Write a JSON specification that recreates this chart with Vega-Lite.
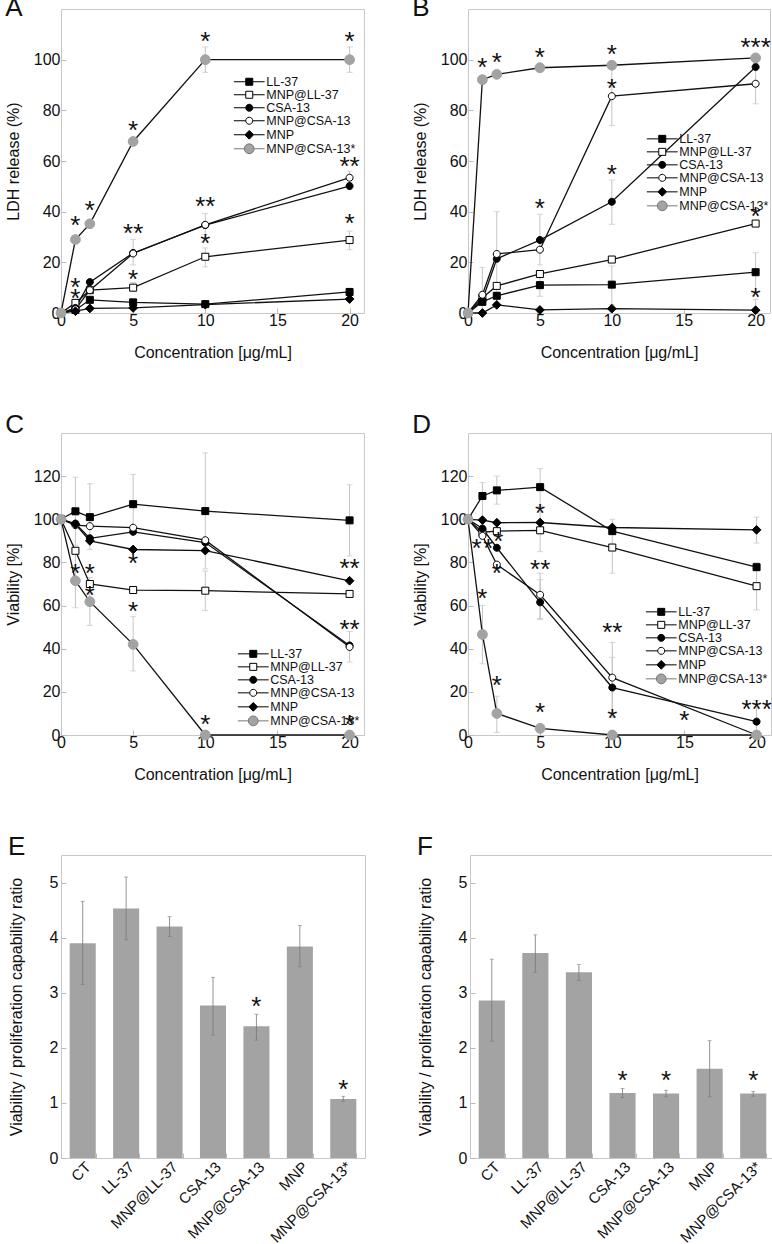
{
"$schema":"https://vega.github.io/schema/vega-lite/v6.json",
"padding":{"left":4,"top":-6,"right":0,"bottom":0},
"config":{
 "font":"Liberation Sans",
 "view":{"stroke":"#c8c8c8","strokeWidth":1},
 "axis":{"domain":false,"grid":false,"ticks":true,"tickSize":-5,"tickColor":"#bbbbbb","labelFontSize":16,"titleFontSize":16,"titleFontWeight":"normal","labelColor":"#111","titleColor":"#111","labelFlush":false,"labelOverlap":false},
 "axisX":{"labelPadding":4,"titlePadding":16},
 "axisY":{"labelPadding":6,"titlePadding":12},
 "legend":{"padding":0,"rowPadding":0,"labelFontSize":12.5,"labelColor":"#111","symbolSize":49,"symbolStrokeWidth":1,"labelOffset":10.75,"symbolOpacity":1,"labelLimit":300},
 "title":{"fontSize":26,"fontWeight":"normal","anchor":"start","frame":"bounds","baseline":"alphabetic","color":"#111"}
},
"datasets":{
"c":[
{"p":"A","s":"LL-37","x":0,"y":0},{"p":"A","s":"LL-37","x":1,"y":1.2},{"p":"A","s":"LL-37","x":2,"y":5.2},{"p":"A","s":"LL-37","x":5,"y":4.2},{"p":"A","s":"LL-37","x":10,"y":3.5},{"p":"A","s":"LL-37","x":20,"y":8.3,"lo":6.8,"hi":9.8},
{"p":"A","s":"MNP@LL-37","x":0,"y":0},{"p":"A","s":"MNP@LL-37","x":1,"y":4},{"p":"A","s":"MNP@LL-37","x":2,"y":9},{"p":"A","s":"MNP@LL-37","x":5,"y":10,"lo":8.5,"hi":12},{"p":"A","s":"MNP@LL-37","x":10,"y":22.2,"lo":18.2,"hi":25.7},{"p":"A","s":"MNP@LL-37","x":20,"y":28.8,"lo":25,"hi":32.3},
{"p":"A","s":"CSA-13","x":0,"y":0},{"p":"A","s":"CSA-13","x":1,"y":2},{"p":"A","s":"CSA-13","x":2,"y":12.2},{"p":"A","s":"CSA-13","x":5,"y":23.7},{"p":"A","s":"CSA-13","x":10,"y":34.7},{"p":"A","s":"CSA-13","x":20,"y":50.1,"lo":48.8,"hi":51.5},
{"p":"A","s":"MNP@CSA-13","x":0,"y":0},{"p":"A","s":"MNP@CSA-13","x":1,"y":1.5},{"p":"A","s":"MNP@CSA-13","x":2,"y":9},{"p":"A","s":"MNP@CSA-13","x":5,"y":23.5,"lo":19,"hi":29},{"p":"A","s":"MNP@CSA-13","x":10,"y":34.8,"lo":31,"hi":39.3},{"p":"A","s":"MNP@CSA-13","x":20,"y":53.4,"lo":51,"hi":56},
{"p":"A","s":"MNP","x":0,"y":0},{"p":"A","s":"MNP","x":1,"y":0.7},{"p":"A","s":"MNP","x":2,"y":1.8},{"p":"A","s":"MNP","x":5,"y":2},{"p":"A","s":"MNP","x":10,"y":3.3},{"p":"A","s":"MNP","x":20,"y":5.5},
{"p":"A","s":"MNP@CSA-13*","x":0,"y":0},{"p":"A","s":"MNP@CSA-13*","x":1,"y":29},{"p":"A","s":"MNP@CSA-13*","x":2,"y":35.2},{"p":"A","s":"MNP@CSA-13*","x":5,"y":67.7},{"p":"A","s":"MNP@CSA-13*","x":10,"y":100,"lo":95,"hi":105},{"p":"A","s":"MNP@CSA-13*","x":20,"y":100,"lo":95,"hi":105},
{"p":"A","x":10,"y":108,"t":"*"},{"p":"A","x":20,"y":108,"t":"*"},{"p":"A","x":5,"y":73.2,"t":"*"},{"p":"A","x":2,"y":41.5,"t":"*"},{"p":"A","x":1,"y":35.6,"t":"*"},{"p":"A","x":20,"y":58.7,"t":"**"},{"p":"A","x":10,"y":42.9,"t":"**"},{"p":"A","x":5,"y":32.3,"t":"**"},{"p":"A","x":20,"y":36.3,"t":"*"},{"p":"A","x":10,"y":28.4,"t":"*"},{"p":"A","x":5,"y":14.1,"t":"*"},{"p":"A","x":1,"y":11.2,"t":"*"},{"p":"A","x":1,"y":6.6,"t":"*"},

{"p":"B","s":"LL-37","x":0,"y":0},{"p":"B","s":"LL-37","x":1,"y":4.4},{"p":"B","s":"LL-37","x":2,"y":6.8},{"p":"B","s":"LL-37","x":5,"y":11,"lo":6.6,"hi":14.5},{"p":"B","s":"LL-37","x":10,"y":11.2,"lo":3.3,"hi":18.5},{"p":"B","s":"LL-37","x":20,"y":16.1,"lo":7.9,"hi":23.8},
{"p":"B","s":"MNP@LL-37","x":0,"y":0},{"p":"B","s":"MNP@LL-37","x":1,"y":6},{"p":"B","s":"MNP@LL-37","x":2,"y":10.7},{"p":"B","s":"MNP@LL-37","x":5,"y":15.4},{"p":"B","s":"MNP@LL-37","x":10,"y":21.1},{"p":"B","s":"MNP@LL-37","x":20,"y":35.3},
{"p":"B","s":"CSA-13","x":0,"y":0},{"p":"B","s":"CSA-13","x":1,"y":5,"lo":0,"hi":18},{"p":"B","s":"CSA-13","x":2,"y":21.4,"lo":3,"hi":40},{"p":"B","s":"CSA-13","x":5,"y":28.8,"lo":19,"hi":39},{"p":"B","s":"CSA-13","x":10,"y":43.9,"lo":35,"hi":52.5},{"p":"B","s":"CSA-13","x":20,"y":97.1},
{"p":"B","s":"MNP@CSA-13","x":0,"y":0},{"p":"B","s":"MNP@CSA-13","x":1,"y":7.2},{"p":"B","s":"MNP@CSA-13","x":2,"y":23.3},{"p":"B","s":"MNP@CSA-13","x":5,"y":25},{"p":"B","s":"MNP@CSA-13","x":10,"y":85.6,"lo":74,"hi":97},{"p":"B","s":"MNP@CSA-13","x":20,"y":90.5,"lo":82.6,"hi":98.4},
{"p":"B","s":"MNP","x":0,"y":0},{"p":"B","s":"MNP","x":1,"y":0},{"p":"B","s":"MNP","x":2,"y":3.2},{"p":"B","s":"MNP","x":5,"y":1.2},{"p":"B","s":"MNP","x":10,"y":1.7},{"p":"B","s":"MNP","x":20,"y":1.1,"lo":0,"hi":5.3},
{"p":"B","s":"MNP@CSA-13*","x":0,"y":0},{"p":"B","s":"MNP@CSA-13*","x":1,"y":92.1},{"p":"B","s":"MNP@CSA-13*","x":2,"y":94.2},{"p":"B","s":"MNP@CSA-13*","x":5,"y":96.8},{"p":"B","s":"MNP@CSA-13*","x":10,"y":97.8},{"p":"B","s":"MNP@CSA-13*","x":20,"y":100.7},
{"p":"B","x":1,"y":97.8,"t":"*"},{"p":"B","x":2,"y":99.7,"t":"*"},{"p":"B","x":5,"y":101.7,"t":"*"},{"p":"B","x":10,"y":103,"t":"*"},{"p":"B","x":20,"y":105.7,"t":"***"},{"p":"B","x":10,"y":89.8,"t":"*"},{"p":"B","x":10,"y":55.5,"t":"*"},{"p":"B","x":5,"y":42.3,"t":"*"},{"p":"B","x":20,"y":39,"t":"*"},{"p":"B","x":20,"y":7.3,"t":"*"},

{"p":"C","s":"LL-37","x":0,"y":100},{"p":"C","s":"LL-37","x":1,"y":103.7,"lo":88,"hi":119.5},{"p":"C","s":"LL-37","x":2,"y":101,"lo":86,"hi":116.5},{"p":"C","s":"LL-37","x":5,"y":107,"lo":93,"hi":120.8},{"p":"C","s":"LL-37","x":10,"y":103.8,"lo":77,"hi":130.8},{"p":"C","s":"LL-37","x":20,"y":99.5,"lo":83,"hi":116},
{"p":"C","s":"MNP@LL-37","x":0,"y":100},{"p":"C","s":"MNP@LL-37","x":1,"y":85.4},{"p":"C","s":"MNP@LL-37","x":2,"y":70},{"p":"C","s":"MNP@LL-37","x":5,"y":67.2},{"p":"C","s":"MNP@LL-37","x":10,"y":66.9,"lo":57.7,"hi":76},{"p":"C","s":"MNP@LL-37","x":20,"y":65.4},
{"p":"C","s":"CSA-13","x":0,"y":100},{"p":"C","s":"CSA-13","x":1,"y":98},{"p":"C","s":"CSA-13","x":2,"y":91.2},{"p":"C","s":"CSA-13","x":5,"y":94.2},{"p":"C","s":"CSA-13","x":10,"y":89.2},{"p":"C","s":"CSA-13","x":20,"y":41.5},
{"p":"C","s":"MNP@CSA-13","x":0,"y":100},{"p":"C","s":"MNP@CSA-13","x":1,"y":97.3},{"p":"C","s":"MNP@CSA-13","x":2,"y":96.8},{"p":"C","s":"MNP@CSA-13","x":5,"y":96.1},{"p":"C","s":"MNP@CSA-13","x":10,"y":90.3},{"p":"C","s":"MNP@CSA-13","x":20,"y":40.8,"lo":33.8,"hi":48},
{"p":"C","s":"MNP","x":0,"y":100},{"p":"C","s":"MNP","x":1,"y":97.7},{"p":"C","s":"MNP","x":2,"y":90},{"p":"C","s":"MNP","x":5,"y":86},{"p":"C","s":"MNP","x":10,"y":85.5},{"p":"C","s":"MNP","x":20,"y":71.5},
{"p":"C","s":"MNP@CSA-13*","x":0,"y":100},{"p":"C","s":"MNP@CSA-13*","x":1,"y":71.5,"lo":59,"hi":84},{"p":"C","s":"MNP@CSA-13*","x":2,"y":61.8,"lo":50.8,"hi":73},{"p":"C","s":"MNP@CSA-13*","x":5,"y":42,"lo":29.7,"hi":55},{"p":"C","s":"MNP@CSA-13*","x":10,"y":0},{"p":"C","s":"MNP@CSA-13*","x":20,"y":0},
{"p":"C","x":1,"y":76.2,"t":"*"},{"p":"C","x":2,"y":76.2,"t":"*"},{"p":"C","x":2,"y":65.7,"t":"*"},{"p":"C","x":5,"y":80.8,"t":"*"},{"p":"C","x":5,"y":58.5,"t":"*"},{"p":"C","x":20,"y":78.5,"t":"**"},{"p":"C","x":20,"y":50,"t":"**"},{"p":"C","x":10,"y":6.2,"t":"*"},{"p":"C","x":20,"y":6.2,"t":"*"},

{"p":"D","s":"LL-37","x":0,"y":100},{"p":"D","s":"LL-37","x":1,"y":110.8,"lo":101,"hi":117},{"p":"D","s":"LL-37","x":2,"y":113.4,"lo":107,"hi":120},{"p":"D","s":"LL-37","x":5,"y":114.9,"lo":106,"hi":123.5},{"p":"D","s":"LL-37","x":10,"y":94.5},{"p":"D","s":"LL-37","x":20,"y":77.8},
{"p":"D","s":"MNP@LL-37","x":0,"y":100},{"p":"D","s":"MNP@LL-37","x":1,"y":94},{"p":"D","s":"MNP@LL-37","x":2,"y":94.5},{"p":"D","s":"MNP@LL-37","x":5,"y":94.9,"lo":85,"hi":105},{"p":"D","s":"MNP@LL-37","x":10,"y":86.9,"lo":75,"hi":100},{"p":"D","s":"MNP@LL-37","x":20,"y":69,"lo":58,"hi":80},
{"p":"D","s":"CSA-13","x":0,"y":100},{"p":"D","s":"CSA-13","x":1,"y":95.7},{"p":"D","s":"CSA-13","x":2,"y":86.8},{"p":"D","s":"CSA-13","x":5,"y":61.5,"lo":53.5,"hi":72},{"p":"D","s":"CSA-13","x":10,"y":22,"lo":8,"hi":36},{"p":"D","s":"CSA-13","x":20,"y":6.2},
{"p":"D","s":"MNP@CSA-13","x":0,"y":100},{"p":"D","s":"MNP@CSA-13","x":1,"y":92.3},{"p":"D","s":"MNP@CSA-13","x":2,"y":79},{"p":"D","s":"MNP@CSA-13","x":5,"y":65,"lo":54,"hi":75},{"p":"D","s":"MNP@CSA-13","x":10,"y":26.6,"lo":10,"hi":42.9},{"p":"D","s":"MNP@CSA-13","x":20,"y":0,"lo":0,"hi":16},
{"p":"D","s":"MNP","x":0,"y":100},{"p":"D","s":"MNP","x":1,"y":99.6},{"p":"D","s":"MNP","x":2,"y":98.4},{"p":"D","s":"MNP","x":5,"y":98.5},{"p":"D","s":"MNP","x":10,"y":96.2},{"p":"D","s":"MNP","x":20,"y":95.1,"lo":89,"hi":101},
{"p":"D","s":"MNP@CSA-13*","x":0,"y":100},{"p":"D","s":"MNP@CSA-13*","x":1,"y":46.6,"lo":33,"hi":60},{"p":"D","s":"MNP@CSA-13*","x":2,"y":10,"lo":1.2,"hi":18},{"p":"D","s":"MNP@CSA-13*","x":5,"y":3.1,"lo":1,"hi":5},{"p":"D","s":"MNP@CSA-13*","x":10,"y":0},{"p":"D","s":"MNP@CSA-13*","x":20,"y":0},
{"p":"D","x":5,"y":103.8,"t":"*"},{"p":"D","x":0.6,"y":87.8,"t":"*"},{"p":"D","x":1.4,"y":87.8,"t":"*"},{"p":"D","x":2.1,"y":91,"t":"*"},{"p":"D","x":2,"y":75.8,"t":"*"},{"p":"D","x":1,"y":64.6,"t":"*"},{"p":"D","x":5,"y":77.8,"t":"**"},{"p":"D","x":10,"y":48.8,"t":"**"},{"p":"D","x":2,"y":24,"t":"*"},{"p":"D","x":5,"y":11.7,"t":"*"},{"p":"D","x":10,"y":8.6,"t":"*"},{"p":"D","x":15,"y":7.8,"t":"*"},{"p":"D","x":20,"y":13.2,"t":"***"}
],
"b":[
{"p":"E","g":"CT","v":3.9,"lo":3.15,"hi":4.66},{"p":"E","g":"LL-37","v":4.53,"lo":3.96,"hi":5.1},{"p":"E","g":"MNP@LL-37","v":4.2,"lo":4.02,"hi":4.38},{"p":"E","g":"CSA-13","v":2.77,"lo":2.23,"hi":3.28},{"p":"E","g":"MNP@CSA-13","v":2.39,"lo":2.14,"hi":2.61},{"p":"E","g":"MNP","v":3.84,"lo":3.47,"hi":4.22},{"p":"E","g":"MNP@CSA-13*","v":1.07,"lo":1.03,"hi":1.12},
{"p":"E","g":"MNP@CSA-13","sy":2.8,"t":"*"},{"p":"E","g":"MNP@CSA-13*","sy":1.29,"t":"*"},
{"p":"F","g":"CT","v":2.86,"lo":2.12,"hi":3.61},{"p":"F","g":"LL-37","v":3.72,"lo":3.37,"hi":4.05},{"p":"F","g":"MNP@LL-37","v":3.37,"lo":3.22,"hi":3.51},{"p":"F","g":"CSA-13","v":1.18,"lo":1.1,"hi":1.26},{"p":"F","g":"MNP@CSA-13","v":1.17,"lo":1.11,"hi":1.23},{"p":"F","g":"MNP","v":1.62,"lo":1.11,"hi":2.13},{"p":"F","g":"MNP@CSA-13*","v":1.17,"lo":1.12,"hi":1.21},
{"p":"F","g":"CSA-13","sy":1.45,"t":"*"},{"p":"F","g":"MNP@CSA-13","sy":1.45,"t":"*"},{"p":"F","g":"MNP@CSA-13*","sy":1.45,"t":"*"}
]
},
"vconcat":[
{"hconcat":[
 {"width":303,"height":304,"title":{"text":"A","offset":-12},
  "data":{"name":"c"},"transform":[{"filter":"datum.p==='A'"}],
  "encoding":{"x":{"field":"x","type":"quantitative","scale":{"domain":[0,21],"nice":false},"axis":{"values":[0,5,10,15,20],"title":"Concentration [μg/mL]"}}},
  "layer":[
   {"transform":[{"filter":"isValid(datum.lo)"}],"mark":{"type":"rule","color":"#c4c4c4","strokeWidth":1},"encoding":{"y":{"field":"lo","type":"quantitative","title":"LDH release (%)","scale":{"domain":[0,120],"nice":false}},"y2":{"field":"hi"}}},
   {"transform":[{"filter":"isValid(datum.lo)"}],"mark":{"type":"tick","orient":"horizontal","size":6,"thickness":1,"color":"#c4c4c4"},"encoding":{"y":{"field":"lo","type":"quantitative","title":"LDH release (%)","scale":{"domain":[0,120],"nice":false}}}},
   {"transform":[{"filter":"isValid(datum.hi)"}],"mark":{"type":"tick","orient":"horizontal","size":6,"thickness":1,"color":"#c4c4c4"},"encoding":{"y":{"field":"hi","type":"quantitative","title":"LDH release (%)","scale":{"domain":[0,120],"nice":false}}}},
   {"transform":[{"filter":"isValid(datum.s)"}],"mark":{"type":"line","color":"#111","strokeWidth":1.3},"encoding":{"y":{"field":"y","type":"quantitative","title":"LDH release (%)","scale":{"domain":[0,120],"nice":false},"axis":{"values":[0,20,40,60,80,100]}},"detail":{"field":"s"}}},
   {"transform":[{"filter":"isValid(datum.s)"}],"mark":{"type":"point","filled":true,"size":49,"strokeWidth":1,"opacity":1},"encoding":{"y":{"field":"y","type":"quantitative","title":"LDH release (%)"},
     "shape":{"field":"s","legend":null,"scale":{"domain":["LL-37","MNP@LL-37","CSA-13","MNP@CSA-13","MNP","MNP@CSA-13*"],"range":["M-1,-1H1V1H-1Z","M-1,-1H1V1H-1Z","M1,0A1,1,0,1,1,-1,0A1,1,0,1,1,1,0Z","M1,0A1,1,0,1,1,-1,0A1,1,0,1,1,1,0Z","M0,-1.25L1.25,0L0,1.25L-1.25,0Z","M1.4,0A1.4,1.4,0,1,1,-1.4,0A1.4,1.4,0,1,1,1.4,0Z"]}},
     "fill":{"field":"s","legend":null,"scale":{"domain":["LL-37","MNP@LL-37","CSA-13","MNP@CSA-13","MNP","MNP@CSA-13*"],"range":["#000","#fff","#000","#fff","#000","#a3a3a3"]}},
     "stroke":{"field":"s","legend":null,"scale":{"domain":["LL-37","MNP@LL-37","CSA-13","MNP@CSA-13","MNP","MNP@CSA-13*"],"range":["#000","#000","#000","#000","#000","#a3a3a3"]}}}},
   {"transform":[{"filter":"isValid(datum.t)"}],"mark":{"type":"text","fontSize":26,"dy":3,"color":"#111"},"encoding":{"y":{"field":"y","type":"quantitative","title":"LDH release (%)"},"text":{"field":"t"}}},
   {"transform":[{"filter":"isValid(datum.s)"}],"mark":{"type":"point","filled":true,"size":49,"strokeWidth":1,"opacity":0},"encoding":{"y":{"field":"y","type":"quantitative","title":"LDH release (%)"},
     "shape":{"field":"s","legend":{"title":null,"orient":"none","legendX":182,"legendY":66.5},"scale":{"domain":["LL-37","MNP@LL-37","CSA-13","MNP@CSA-13","MNP","MNP@CSA-13*"],"range":["M-4.4,0H-1M1,0H4.4M-1,-1H1V1H-1Z","M-4.4,0H-1M1,0H4.4M-1,-1H1V1H-1Z","M-4.4,0H-1M1,0H4.4M1,0A1,1,0,1,1,-1,0A1,1,0,1,1,1,0Z","M-4.4,0H-1M1,0H4.4M1,0A1,1,0,1,1,-1,0A1,1,0,1,1,1,0Z","M-4.4,0H-1.25M1.25,0H4.4M0,-1.25L1.25,0L0,1.25L-1.25,0Z","M-4.4,0H-1.4M1.4,0H4.4M1.4,0A1.4,1.4,0,1,1,-1.4,0A1.4,1.4,0,1,1,1.4,0Z"]}},
     "fill":{"field":"s","legend":{"title":null,"orient":"none","legendX":182,"legendY":66.5},"scale":{"domain":["LL-37","MNP@LL-37","CSA-13","MNP@CSA-13","MNP","MNP@CSA-13*"],"range":["#000","#fff","#000","#fff","#000","#a3a3a3"]}},
     "stroke":{"field":"s","legend":{"title":null,"orient":"none","legendX":182,"legendY":66.5},"scale":{"domain":["LL-37","MNP@LL-37","CSA-13","MNP@CSA-13","MNP","MNP@CSA-13*"],"range":["#000","#000","#000","#000","#000","#777"]}}}}
  ],
  "resolve":{"scale":{"shape":"independent","fill":"independent","stroke":"independent"}}
 },
 {"width":302,"height":304,"title":{"text":"B","offset":-12},
  "data":{"name":"c"},"transform":[{"filter":"datum.p==='B'"}],
  "encoding":{"x":{"field":"x","type":"quantitative","scale":{"domain":[0,21],"nice":false},"axis":{"values":[0,5,10,15,20],"title":"Concentration [μg/mL]"}}},
  "layer":[
   {"transform":[{"filter":"isValid(datum.lo)"}],"mark":{"type":"rule","color":"#c4c4c4","strokeWidth":1},"encoding":{"y":{"field":"lo","type":"quantitative","title":"LDH release (%)","scale":{"domain":[0,120],"nice":false}},"y2":{"field":"hi"}}},
   {"transform":[{"filter":"isValid(datum.lo)"}],"mark":{"type":"tick","orient":"horizontal","size":6,"thickness":1,"color":"#c4c4c4"},"encoding":{"y":{"field":"lo","type":"quantitative","title":"LDH release (%)","scale":{"domain":[0,120],"nice":false}}}},
   {"transform":[{"filter":"isValid(datum.hi)"}],"mark":{"type":"tick","orient":"horizontal","size":6,"thickness":1,"color":"#c4c4c4"},"encoding":{"y":{"field":"hi","type":"quantitative","title":"LDH release (%)","scale":{"domain":[0,120],"nice":false}}}},
   {"transform":[{"filter":"isValid(datum.s)"}],"mark":{"type":"line","color":"#111","strokeWidth":1.3},"encoding":{"y":{"field":"y","type":"quantitative","title":"LDH release (%)","scale":{"domain":[0,120],"nice":false},"axis":{"values":[0,20,40,60,80,100]}},"detail":{"field":"s"}}},
   {"transform":[{"filter":"isValid(datum.s)"}],"mark":{"type":"point","filled":true,"size":49,"strokeWidth":1,"opacity":1},"encoding":{"y":{"field":"y","type":"quantitative","title":"LDH release (%)"},
     "shape":{"field":"s","legend":null,"scale":{"domain":["LL-37","MNP@LL-37","CSA-13","MNP@CSA-13","MNP","MNP@CSA-13*"],"range":["M-1,-1H1V1H-1Z","M-1,-1H1V1H-1Z","M1,0A1,1,0,1,1,-1,0A1,1,0,1,1,1,0Z","M1,0A1,1,0,1,1,-1,0A1,1,0,1,1,1,0Z","M0,-1.25L1.25,0L0,1.25L-1.25,0Z","M1.4,0A1.4,1.4,0,1,1,-1.4,0A1.4,1.4,0,1,1,1.4,0Z"]}},
     "fill":{"field":"s","legend":null,"scale":{"domain":["LL-37","MNP@LL-37","CSA-13","MNP@CSA-13","MNP","MNP@CSA-13*"],"range":["#000","#fff","#000","#fff","#000","#a3a3a3"]}},
     "stroke":{"field":"s","legend":null,"scale":{"domain":["LL-37","MNP@LL-37","CSA-13","MNP@CSA-13","MNP","MNP@CSA-13*"],"range":["#000","#000","#000","#000","#000","#a3a3a3"]}}}},
   {"transform":[{"filter":"isValid(datum.t)"}],"mark":{"type":"text","fontSize":26,"dy":3,"color":"#111"},"encoding":{"y":{"field":"y","type":"quantitative","title":"LDH release (%)"},"text":{"field":"t"}}},
   {"transform":[{"filter":"isValid(datum.s)"}],"mark":{"type":"point","filled":true,"size":49,"strokeWidth":1,"opacity":0},"encoding":{"y":{"field":"y","type":"quantitative","title":"LDH release (%)"},
     "shape":{"field":"s","legend":{"title":null,"orient":"none","legendX":188,"legendY":123.6},"scale":{"domain":["LL-37","MNP@LL-37","CSA-13","MNP@CSA-13","MNP","MNP@CSA-13*"],"range":["M-4.4,0H-1M1,0H4.4M-1,-1H1V1H-1Z","M-4.4,0H-1M1,0H4.4M-1,-1H1V1H-1Z","M-4.4,0H-1M1,0H4.4M1,0A1,1,0,1,1,-1,0A1,1,0,1,1,1,0Z","M-4.4,0H-1M1,0H4.4M1,0A1,1,0,1,1,-1,0A1,1,0,1,1,1,0Z","M-4.4,0H-1.25M1.25,0H4.4M0,-1.25L1.25,0L0,1.25L-1.25,0Z","M-4.4,0H-1.4M1.4,0H4.4M1.4,0A1.4,1.4,0,1,1,-1.4,0A1.4,1.4,0,1,1,1.4,0Z"]}},
     "fill":{"field":"s","legend":{"title":null,"orient":"none","legendX":188,"legendY":123.6},"scale":{"domain":["LL-37","MNP@LL-37","CSA-13","MNP@CSA-13","MNP","MNP@CSA-13*"],"range":["#000","#fff","#000","#fff","#000","#a3a3a3"]}},
     "stroke":{"field":"s","legend":{"title":null,"orient":"none","legendX":188,"legendY":123.6},"scale":{"domain":["LL-37","MNP@LL-37","CSA-13","MNP@CSA-13","MNP","MNP@CSA-13*"],"range":["#000","#000","#000","#000","#000","#777"]}}}}
  ],
  "resolve":{"scale":{"shape":"independent","fill":"independent","stroke":"independent"}}
 }
],"spacing":45},
{"hconcat":[
 {"width":303,"height":302,"title":{"text":"C","offset":-5},
  "data":{"name":"c"},"transform":[{"filter":"datum.p==='C'"}],
  "encoding":{"x":{"field":"x","type":"quantitative","scale":{"domain":[0,21],"nice":false},"axis":{"values":[0,5,10,15,20],"title":"Concentration [μg/mL]"}}},
  "layer":[
   {"transform":[{"filter":"isValid(datum.lo)"}],"mark":{"type":"rule","color":"#c4c4c4","strokeWidth":1},"encoding":{"y":{"field":"lo","type":"quantitative","title":"Viability [%]","scale":{"domain":[0,140],"nice":false}},"y2":{"field":"hi"}}},
   {"transform":[{"filter":"isValid(datum.lo)"}],"mark":{"type":"tick","orient":"horizontal","size":6,"thickness":1,"color":"#c4c4c4"},"encoding":{"y":{"field":"lo","type":"quantitative","title":"Viability [%]","scale":{"domain":[0,140],"nice":false}}}},
   {"transform":[{"filter":"isValid(datum.hi)"}],"mark":{"type":"tick","orient":"horizontal","size":6,"thickness":1,"color":"#c4c4c4"},"encoding":{"y":{"field":"hi","type":"quantitative","title":"Viability [%]","scale":{"domain":[0,140],"nice":false}}}},
   {"transform":[{"filter":"isValid(datum.s)"}],"mark":{"type":"line","color":"#111","strokeWidth":1.3},"encoding":{"y":{"field":"y","type":"quantitative","title":"Viability [%]","scale":{"domain":[0,140],"nice":false},"axis":{"values":[0,20,40,60,80,100,120]}},"detail":{"field":"s"}}},
   {"transform":[{"filter":"isValid(datum.s)"}],"mark":{"type":"point","filled":true,"size":49,"strokeWidth":1,"opacity":1},"encoding":{"y":{"field":"y","type":"quantitative","title":"Viability [%]"},
     "shape":{"field":"s","legend":null,"scale":{"domain":["LL-37","MNP@LL-37","CSA-13","MNP@CSA-13","MNP","MNP@CSA-13*"],"range":["M-1,-1H1V1H-1Z","M-1,-1H1V1H-1Z","M1,0A1,1,0,1,1,-1,0A1,1,0,1,1,1,0Z","M1,0A1,1,0,1,1,-1,0A1,1,0,1,1,1,0Z","M0,-1.25L1.25,0L0,1.25L-1.25,0Z","M1.4,0A1.4,1.4,0,1,1,-1.4,0A1.4,1.4,0,1,1,1.4,0Z"]}},
     "fill":{"field":"s","legend":null,"scale":{"domain":["LL-37","MNP@LL-37","CSA-13","MNP@CSA-13","MNP","MNP@CSA-13*"],"range":["#000","#fff","#000","#fff","#000","#a3a3a3"]}},
     "stroke":{"field":"s","legend":null,"scale":{"domain":["LL-37","MNP@LL-37","CSA-13","MNP@CSA-13","MNP","MNP@CSA-13*"],"range":["#000","#000","#000","#000","#000","#a3a3a3"]}}}},
   {"transform":[{"filter":"isValid(datum.t)"}],"mark":{"type":"text","fontSize":26,"dy":3,"color":"#111"},"encoding":{"y":{"field":"y","type":"quantitative","title":"Viability [%]"},"text":{"field":"t"}}},
   {"transform":[{"filter":"isValid(datum.s)"}],"mark":{"type":"point","filled":true,"size":49,"strokeWidth":1,"opacity":0},"encoding":{"y":{"field":"y","type":"quantitative","title":"Viability [%]"},
     "shape":{"field":"s","legend":{"title":null,"orient":"none","legendX":186,"legendY":214.6},"scale":{"domain":["LL-37","MNP@LL-37","CSA-13","MNP@CSA-13","MNP","MNP@CSA-13*"],"range":["M-4.4,0H-1M1,0H4.4M-1,-1H1V1H-1Z","M-4.4,0H-1M1,0H4.4M-1,-1H1V1H-1Z","M-4.4,0H-1M1,0H4.4M1,0A1,1,0,1,1,-1,0A1,1,0,1,1,1,0Z","M-4.4,0H-1M1,0H4.4M1,0A1,1,0,1,1,-1,0A1,1,0,1,1,1,0Z","M-4.4,0H-1.25M1.25,0H4.4M0,-1.25L1.25,0L0,1.25L-1.25,0Z","M-4.4,0H-1.4M1.4,0H4.4M1.4,0A1.4,1.4,0,1,1,-1.4,0A1.4,1.4,0,1,1,1.4,0Z"]}},
     "fill":{"field":"s","legend":{"title":null,"orient":"none","legendX":186,"legendY":214.6},"scale":{"domain":["LL-37","MNP@LL-37","CSA-13","MNP@CSA-13","MNP","MNP@CSA-13*"],"range":["#000","#fff","#000","#fff","#000","#a3a3a3"]}},
     "stroke":{"field":"s","legend":{"title":null,"orient":"none","legendX":186,"legendY":214.6},"scale":{"domain":["LL-37","MNP@LL-37","CSA-13","MNP@CSA-13","MNP","MNP@CSA-13*"],"range":["#000","#000","#000","#000","#000","#777"]}}}}
  ],
  "resolve":{"scale":{"shape":"independent","fill":"independent","stroke":"independent"}}
 },
 {"width":303,"height":302,"title":{"text":"D","offset":-5},
  "data":{"name":"c"},"transform":[{"filter":"datum.p==='D'"}],
  "encoding":{"x":{"field":"x","type":"quantitative","scale":{"domain":[0,21],"nice":false},"axis":{"values":[0,5,10,15,20],"title":"Concentration [μg/mL]"}}},
  "layer":[
   {"transform":[{"filter":"isValid(datum.lo)"}],"mark":{"type":"rule","color":"#c4c4c4","strokeWidth":1},"encoding":{"y":{"field":"lo","type":"quantitative","title":"Viability [%]","scale":{"domain":[0,140],"nice":false}},"y2":{"field":"hi"}}},
   {"transform":[{"filter":"isValid(datum.lo)"}],"mark":{"type":"tick","orient":"horizontal","size":6,"thickness":1,"color":"#c4c4c4"},"encoding":{"y":{"field":"lo","type":"quantitative","title":"Viability [%]","scale":{"domain":[0,140],"nice":false}}}},
   {"transform":[{"filter":"isValid(datum.hi)"}],"mark":{"type":"tick","orient":"horizontal","size":6,"thickness":1,"color":"#c4c4c4"},"encoding":{"y":{"field":"hi","type":"quantitative","title":"Viability [%]","scale":{"domain":[0,140],"nice":false}}}},
   {"transform":[{"filter":"isValid(datum.s)"}],"mark":{"type":"line","color":"#111","strokeWidth":1.3},"encoding":{"y":{"field":"y","type":"quantitative","title":"Viability [%]","scale":{"domain":[0,140],"nice":false},"axis":{"values":[0,20,40,60,80,100,120]}},"detail":{"field":"s"}}},
   {"transform":[{"filter":"isValid(datum.s)"}],"mark":{"type":"point","filled":true,"size":49,"strokeWidth":1,"opacity":1},"encoding":{"y":{"field":"y","type":"quantitative","title":"Viability [%]"},
     "shape":{"field":"s","legend":null,"scale":{"domain":["LL-37","MNP@LL-37","CSA-13","MNP@CSA-13","MNP","MNP@CSA-13*"],"range":["M-1,-1H1V1H-1Z","M-1,-1H1V1H-1Z","M1,0A1,1,0,1,1,-1,0A1,1,0,1,1,1,0Z","M1,0A1,1,0,1,1,-1,0A1,1,0,1,1,1,0Z","M0,-1.25L1.25,0L0,1.25L-1.25,0Z","M1.4,0A1.4,1.4,0,1,1,-1.4,0A1.4,1.4,0,1,1,1.4,0Z"]}},
     "fill":{"field":"s","legend":null,"scale":{"domain":["LL-37","MNP@LL-37","CSA-13","MNP@CSA-13","MNP","MNP@CSA-13*"],"range":["#000","#fff","#000","#fff","#000","#a3a3a3"]}},
     "stroke":{"field":"s","legend":null,"scale":{"domain":["LL-37","MNP@LL-37","CSA-13","MNP@CSA-13","MNP","MNP@CSA-13*"],"range":["#000","#000","#000","#000","#000","#a3a3a3"]}}}},
   {"transform":[{"filter":"isValid(datum.t)"}],"mark":{"type":"text","fontSize":26,"dy":3,"color":"#111"},"encoding":{"y":{"field":"y","type":"quantitative","title":"Viability [%]"},"text":{"field":"t"}}},
   {"transform":[{"filter":"isValid(datum.s)"}],"mark":{"type":"point","filled":true,"size":49,"strokeWidth":1,"opacity":0},"encoding":{"y":{"field":"y","type":"quantitative","title":"Viability [%]"},
     "shape":{"field":"s","legend":{"title":null,"orient":"none","legendX":187,"legendY":172.6},"scale":{"domain":["LL-37","MNP@LL-37","CSA-13","MNP@CSA-13","MNP","MNP@CSA-13*"],"range":["M-4.4,0H-1M1,0H4.4M-1,-1H1V1H-1Z","M-4.4,0H-1M1,0H4.4M-1,-1H1V1H-1Z","M-4.4,0H-1M1,0H4.4M1,0A1,1,0,1,1,-1,0A1,1,0,1,1,1,0Z","M-4.4,0H-1M1,0H4.4M1,0A1,1,0,1,1,-1,0A1,1,0,1,1,1,0Z","M-4.4,0H-1.25M1.25,0H4.4M0,-1.25L1.25,0L0,1.25L-1.25,0Z","M-4.4,0H-1.4M1.4,0H4.4M1.4,0A1.4,1.4,0,1,1,-1.4,0A1.4,1.4,0,1,1,1.4,0Z"]}},
     "fill":{"field":"s","legend":{"title":null,"orient":"none","legendX":187,"legendY":172.6},"scale":{"domain":["LL-37","MNP@LL-37","CSA-13","MNP@CSA-13","MNP","MNP@CSA-13*"],"range":["#000","#fff","#000","#fff","#000","#a3a3a3"]}},
     "stroke":{"field":"s","legend":{"title":null,"orient":"none","legendX":187,"legendY":172.6},"scale":{"domain":["LL-37","MNP@LL-37","CSA-13","MNP@CSA-13","MNP","MNP@CSA-13*"],"range":["#000","#000","#000","#000","#000","#777"]}}}}
  ],
  "resolve":{"scale":{"shape":"independent","fill":"independent","stroke":"independent"}}
 }
],"spacing":45},
{"hconcat":[
 {"width":304,"height":303,"title":{"text":"E","offset":-5},
  "data":{"name":"b"},"transform":[{"filter":"datum.p==='E'"}],
  "encoding":{"x":{"field":"g","type":"nominal","scale":{"domain":["CT","LL-37","MNP@LL-37","CSA-13","MNP@CSA-13","MNP","MNP@CSA-13*"],"paddingInner":0.4,"paddingOuter":0.2},"axis":{"title":null,"labelAngle":-45,"labelFontSize":15,"labelPadding":6,"tickBand":"extent"}}},
  "layer":[
   {"transform":[{"filter":"isValid(datum.v)"}],"mark":{"type":"bar","color":"#a3a3a3"},"encoding":{"y":{"field":"v","type":"quantitative","title":"Viability / proliferation capability ratio","scale":{"domain":[0,5.5],"nice":false},"axis":{"values":[0,1,2,3,4,5],"format":"d","labelPadding":8,"titlePadding":25}}}},
   {"transform":[{"filter":"isValid(datum.v)"}],"mark":{"type":"rule","color":"#777","strokeWidth":0.8},"encoding":{"y":{"field":"lo","type":"quantitative","title":"Viability / proliferation capability ratio"},"y2":{"field":"hi"}}},
   {"transform":[{"filter":"isValid(datum.v)"}],"mark":{"type":"tick","orient":"horizontal","size":4,"thickness":0.8,"color":"#777"},"encoding":{"y":{"field":"lo","type":"quantitative","title":"Viability / proliferation capability ratio"}}},
   {"transform":[{"filter":"isValid(datum.v)"}],"mark":{"type":"tick","orient":"horizontal","size":4,"thickness":0.8,"color":"#777"},"encoding":{"y":{"field":"hi","type":"quantitative","title":"Viability / proliferation capability ratio"}}},
   {"transform":[{"filter":"isValid(datum.t)"}],"mark":{"type":"text","fontSize":26,"dy":3,"color":"#111"},"encoding":{"y":{"field":"sy","type":"quantitative","title":"Viability / proliferation capability ratio"},"text":{"field":"t"}}}
  ]
 },
 {"width":305,"height":303,"title":{"text":"F","offset":-5},
  "data":{"name":"b"},"transform":[{"filter":"datum.p==='F'"}],
  "encoding":{"x":{"field":"g","type":"nominal","scale":{"domain":["CT","LL-37","MNP@LL-37","CSA-13","MNP@CSA-13","MNP","MNP@CSA-13*"],"paddingInner":0.4,"paddingOuter":0.2},"axis":{"title":null,"labelAngle":-45,"labelFontSize":15,"labelPadding":6,"tickBand":"extent"}}},
  "layer":[
   {"transform":[{"filter":"isValid(datum.v)"}],"mark":{"type":"bar","color":"#a3a3a3"},"encoding":{"y":{"field":"v","type":"quantitative","title":"Viability / proliferation capability ratio","scale":{"domain":[0,5.5],"nice":false},"axis":{"values":[0,1,2,3,4,5],"format":"d","labelPadding":8,"titlePadding":25}}}},
   {"transform":[{"filter":"isValid(datum.v)"}],"mark":{"type":"rule","color":"#777","strokeWidth":0.8},"encoding":{"y":{"field":"lo","type":"quantitative","title":"Viability / proliferation capability ratio"},"y2":{"field":"hi"}}},
   {"transform":[{"filter":"isValid(datum.v)"}],"mark":{"type":"tick","orient":"horizontal","size":4,"thickness":0.8,"color":"#777"},"encoding":{"y":{"field":"lo","type":"quantitative","title":"Viability / proliferation capability ratio"}}},
   {"transform":[{"filter":"isValid(datum.v)"}],"mark":{"type":"tick","orient":"horizontal","size":4,"thickness":0.8,"color":"#777"},"encoding":{"y":{"field":"hi","type":"quantitative","title":"Viability / proliferation capability ratio"}}},
   {"transform":[{"filter":"isValid(datum.t)"}],"mark":{"type":"text","fontSize":26,"dy":3,"color":"#111"},"encoding":{"y":{"field":"sy","type":"quantitative","title":"Viability / proliferation capability ratio"},"text":{"field":"t"}}}
  ]
 }
],"spacing":50}
],
"spacing":50
}
